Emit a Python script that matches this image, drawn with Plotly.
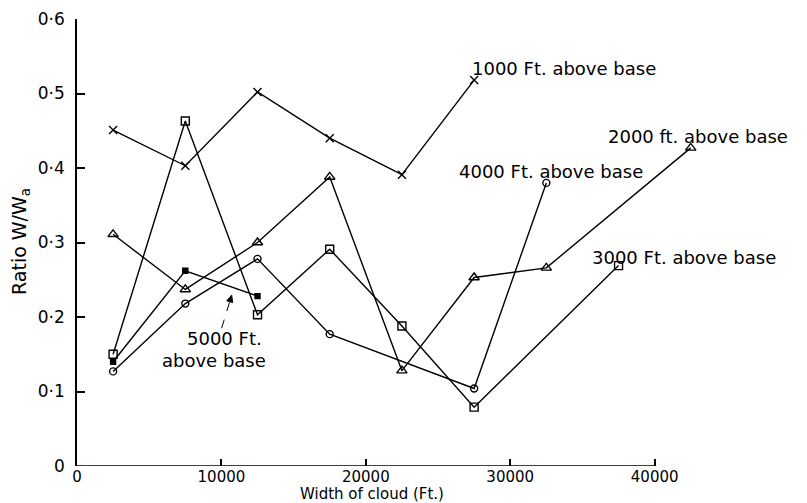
import plotly.graph_objects as go

# Width of cloud (ft) and ratio W/Wa for each height above cloud base
width_1000 = [2500, 7500, 12500, 17500, 22500, 27500]
ratio_1000 = [0.451, 0.403, 0.502, 0.440, 0.391, 0.518]

width_2000 = [2500, 7500, 12500, 17500, 22500, 27500, 32500, 42500]
ratio_2000 = [0.311, 0.237, 0.300, 0.388, 0.128, 0.253, 0.266, 0.427]

width_3000 = [2500, 7500, 12500, 17500, 22500, 27500, 37500]
ratio_3000 = [0.150, 0.463, 0.203, 0.291, 0.188, 0.079, 0.269]

width_4000 = [2500, 7500, 12500, 17500, 27500, 32500]
ratio_4000 = [0.127, 0.218, 0.278, 0.177, 0.104, 0.380]

width_5000 = [2500, 7500, 12500]
ratio_5000 = [0.140, 0.262, 0.228]

x_ticks = [0, 10000, 20000, 30000, 40000]
x_tick_text = ["0", "10000", "20000", "30000", "40000"]
y_ticks = [0, 0.1, 0.2, 0.3, 0.4, 0.5, 0.6]
y_tick_text = ["0", "0·1", "0·2", "0·3", "0·4", "0·5", "0·6"]

FONT = "DejaVu Sans"
INK = "black"

series = [
    (width_1000, ratio_1000, "x-thin-open", 8),
    (width_2000, ratio_2000, "triangle-up-open", 9),
    (width_3000, ratio_3000, "square-open", 8),
    (width_4000, ratio_4000, "circle-open", 7),
    (width_5000, ratio_5000, "square", 5),
]

fig = go.Figure()
for xs, ys, sym, size in series:
    fig.add_trace(go.Scatter(
        x=xs, y=ys, mode="lines+markers",
        line=dict(color=INK, width=1.4),
        marker=dict(symbol=sym, size=size, color=INK,
                    line=dict(color=INK, width=1.4)),
        showlegend=False, cliponaxis=False,
    ))

label_font = dict(family=FONT, size=18, color=INK)
labels = [
    ("1000 Ft. above base", 27216, 0.533),
    ("4000 Ft. above base", 26316, 0.395),
    ("2000 ft. above base", 36634, 0.442),
    ("3000 Ft. above base", 35526, 0.2805),
    ("5000 Ft.", 7479, 0.1705),
    ("above base", 5748, 0.141),
]
annotations = [
    dict(text=t, x=x, y=y, xref="x", yref="y", xanchor="left",
         yanchor="middle", showarrow=False, font=label_font)
    for t, x, y in labels
]

annotations.append(dict(
    text="Ratio W/W<sub>a</sub>", textangle=-90,
    x=(20 - 77) / 730, y=(466 - 242) / 447, xref="paper", yref="paper",
    xanchor="center", yanchor="middle", showarrow=False,
    font=dict(family=FONT, size=19, color=INK),
))
annotations.append(dict(
    text="Width of cloud (Ft.)",
    x=(372 - 77) / 730, y=0, yshift=-(494 - 466), xref="paper",
    yref="paper", xanchor="center", yanchor="middle", showarrow=False,
    font=dict(family=FONT, size=15, color=INK),
))

shapes = [
    # x axis line runs only as far as the last tick
    dict(type="line", xref="x", yref="y", x0=0, x1=40000, y0=0, y1=0,
         line=dict(color=INK, width=1.5)),
    # dashed pointer from the 5000 ft label to its curve, with a small head
    dict(type="line", xref="x", yref="y", x0=10014, y0=0.185,
         x1=10574, y1=0.2205, line=dict(color=INK, width=1, dash="dash")),
    dict(type="path", xref="x", yref="y",
         path="M 10712,0.2295 L 10775,0.2193 L 10373,0.2217 Z",
         fillcolor=INK, line=dict(color=INK, width=1)),
]

fig.update_layout(
    width=807, height=503,
    margin=dict(l=77, r=0, t=19, b=37),
    paper_bgcolor="white", plot_bgcolor="white",
    font=dict(family=FONT, size=16, color=INK),
    annotations=annotations, shapes=shapes,
    xaxis=dict(
        range=[0, 50550], tickvals=x_ticks, ticktext=x_tick_text,
        ticks="inside", ticklen=7, tickwidth=1.5, tickcolor=INK,
        showline=False, showgrid=False, zeroline=False,
        tickfont=dict(family=FONT, size=15, color=INK),
        ticklabelstandoff=0,
    ),
    yaxis=dict(
        range=[0, 0.6], tickvals=y_ticks, ticktext=y_tick_text,
        ticks="inside", ticklen=8, tickwidth=1.5, tickcolor=INK,
        showline=True, linecolor=INK, linewidth=1.5,
        showgrid=False, zeroline=False, ticklabelstandoff=7,
        tickfont=dict(family=FONT, size=17, color=INK),
    ),
)

fig.write_html("out.html")
